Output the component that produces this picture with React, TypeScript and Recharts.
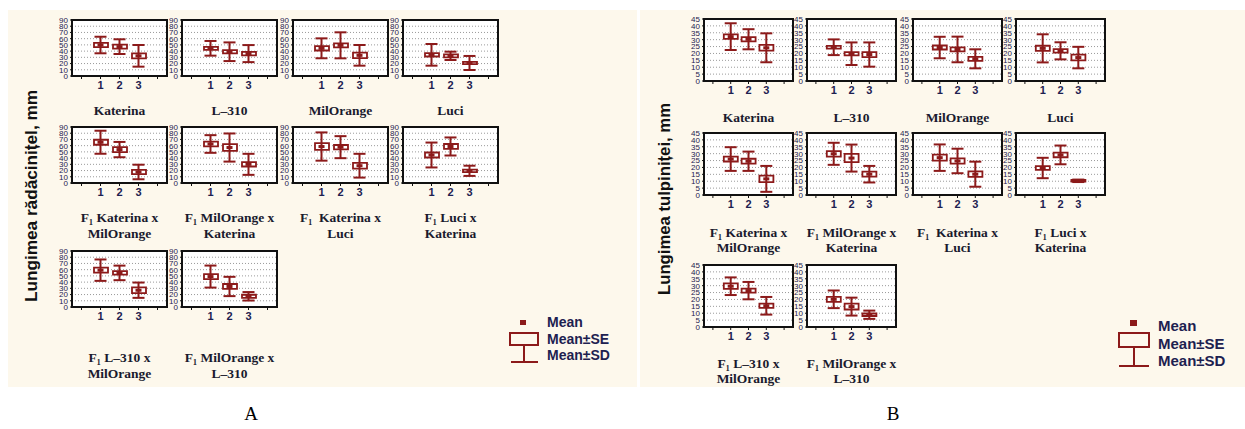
import React from 'react';
import { ComposedChart, Bar, Line, ErrorBar, XAxis, YAxis, CartesianGrid, ReferenceArea } from 'recharts';

// ---------- data ----------
const xPositions = [0, 1, 2, 3, 4];
const xTickText: Record<number, string> = { 0: '', 1: '1', 2: '2', 3: '3', 4: '' };

const crossNames: string[][] = [
  ['Katerina'], ['L–310'], ['MilOrange'], ['Luci'],
  ['F₁ Katerina x', 'MilOrange'], ['F₁ MilOrange x', 'Katerina'], ['F₁  Katerina x', 'Luci'], ['F₁ Luci x', 'Katerina'],
  ['F₁ L–310 x', 'MilOrange'], ['F₁ MilOrange x', 'L–310'],
];

const rootYTicks = [0, 10, 20, 30, 40, 50, 60, 70, 80, 90];
const rootMean = [
  [49.8, 47.2, 32.4], [44.5, 39.0, 36.0], [44.5, 49.3, 33.2], [34.0, 32.4, 20.9],
  [65.5, 53.7, 17.7], [62.7, 57.0, 30.0], [58.6, 57.6, 27.8], [45.0, 58.7, 19.6],
  [59.2, 54.8, 27.0], [48.9, 33.0, 17.2],
];
const rootSE = [
  [3.5, 3.2, 4.0], [2.4, 2.5, 2.7], [3.5, 3.2, 4.5], [2.7, 2.4, 1.9],
  [4.0, 4.0, 3.3], [3.8, 5.4, 3.5], [5.4, 3.5, 4.6], [4.0, 4.0, 2.0],
  [4.0, 2.7, 4.6], [4.0, 4.0, 2.5],
];
const rootSD = [
  [13.3, 11.8, 17.4], [11.8, 15.0, 13.7], [16.0, 20.9, 16.6], [17.4, 6.7, 11.3],
  [18.5, 12.3, 11.7], [14.2, 22.6, 16.9], [22.7, 17.7, 19.1], [20.0, 14.5, 8.2],
  [17.2, 11.7, 12.3], [17.7, 15.5, 6.8],
];

const stemYTicks = [0, 5, 10, 15, 20, 25, 30, 35, 40, 45];
const stemMean = [
  [32.2, 30.3, 24.1], [24.5, 19.8, 19.2], [24.3, 22.9, 16.1], [23.7, 21.9, 17.0],
  [26.1, 24.5, 11.7], [29.9, 26.8, 15.1], [27.1, 24.7, 15.1], [19.6, 29.1, 10.3],
  [29.6, 26.4, 15.4], [20.1, 14.8, 8.9],
];
const stemSE = [
  [1.6, 1.6, 2.1], [1.0, 1.2, 1.8], [1.45, 1.45, 1.45], [1.9, 1.3, 2.1],
  [1.8, 1.8, 2.4], [2.0, 3.0, 1.8], [2.2, 1.9, 2.0], [1.4, 1.7, 0.6],
  [2.0, 1.5, 1.5], [1.8, 2.1, 0.9],
];
const stemSD = [
  [9.7, 7.3, 10.5], [5.7, 8.2, 8.8], [7.8, 9.3, 6.9], [10.2, 6.2, 7.8],
  [8.6, 7.0, 9.4], [8.0, 9.8, 6.0], [9.6, 8.9, 9.1], [7.4, 6.8, 0.9],
  [6.4, 6.3, 6.4], [6.4, 6.5, 3.0],
];

const legendLabels = ['Mean', 'Mean±SE', 'Mean±SD'];
const yTitleA = 'Lungimea rădăcinițel, mm';
const yTitleB = 'Lungimea tulpiniței, mm';

// ---------- style / layout ----------
const RED = '#8c1a1a';
const NAVY = '#1d2150';
const CREAM = '#fdf8ec';
const YW = 20;
const MR = 6;
const MT = 4;
const XH = 16;

function buildRows(means: number[][], ses: number[][], sds: number[][], i: number) {
  return xPositions.map((c) => {
    if (c < 1 || c > 3) return { x: c };
    const m = means[i][c - 1];
    const s = ses[i][c - 1];
    return { x: c, mean: m, se: [m - s, m + s], sd: sds[i][c - 1] };
  });
}

const MeanDot = (props: any) => {
  const { cx, cy, index } = props;
  if (cx == null || cy == null || Number.isNaN(cy)) return <g key={`e${index}`} />;
  return <rect key={`m${index}`} x={cx - 3} y={cy - 1.5} width={6} height={3} fill={RED} />;
};

function SmallPlot({ left, top, pw, ph, data, yMax, yTicks }: any) {
  const W = pw + YW + MR;
  const H = ph + MT + XH;
  return (
    <div style={{ position: 'absolute', left: left - YW, top: top - MT }}>
      <ComposedChart width={W} height={H} data={data} margin={{ top: MT, right: MR, bottom: 0, left: 0 }}>
        <CartesianGrid vertical={false} stroke="#9a9a9a" strokeDasharray="1 2" fill="#ffffff" />
        <XAxis dataKey="x" type="number" domain={[-0.5, 4.5]} ticks={xPositions} interval={0} height={XH} tickSize={3}
          tickFormatter={(v: any) => xTickText[v] ?? ''}
          tick={{ fontSize: 11, fontWeight: 700, fill: NAVY, fontFamily: 'Liberation Sans, Arial, sans-serif' }}
          axisLine={false} tickLine={{ stroke: '#111' }} />
        <XAxis xAxisId="top" orientation="top" dataKey="x" type="number" domain={[-0.5, 4.5]} ticks={xPositions}
          interval={0} mirror tick={false} tickSize={3} axisLine={false} tickLine={{ stroke: '#111' }} />
        <YAxis type="number" domain={[0, yMax]} ticks={yTicks} interval={0} width={YW} tickSize={2}
          tick={{ fontSize: 8, fill: NAVY, fontFamily: 'Liberation Sans, Arial, sans-serif' }}
          axisLine={false} tickLine={{ stroke: '#111' }} allowDataOverflow />
        <YAxis yAxisId="right" orientation="right" type="number" domain={[0, yMax]} ticks={yTicks} interval={0}
          mirror tick={false} tickSize={3} width={0} axisLine={false} tickLine={{ stroke: '#111' }} />
        <Bar dataKey="se" barSize={14} fill="#ffffff" stroke={RED} strokeWidth={1.8} isAnimationActive={false} />
        <Line dataKey="mean" stroke="none" dot={MeanDot} activeDot={false} isAnimationActive={false} legendType="none">
          <ErrorBar dataKey="sd" width={6} stroke={RED} strokeWidth={2} direction="y" />
        </Line>
        <ReferenceArea x1={-0.5} x2={4.5} y1={0} y2={yMax} fill="none" fillOpacity={0} stroke="#111" strokeWidth={2}
          ifOverflow="visible" />
      </ComposedChart>
    </div>
  );
}

const panelA = { cols: [72, 182, 293, 403], rows: [20, 127, 251], pw: 95, ph: 56, labelY: [110, 217, 357], gap: 16 };
const panelB = { cols: [704, 807, 913, 1016], rows: [19, 133, 265], pw: 89, ph: 62, labelY: [117, 232, 363], gap: 15 };

function pos(i: number) {
  if (i < 4) return { r: 0, c: i };
  if (i < 8) return { r: 1, c: i - 4 };
  return { r: 2, c: i - 8 };
}

export default function App() {
  const serif = 'Liberation Serif, Times New Roman, serif';
  const sans = 'Liberation Sans, Arial, sans-serif';
  const labels: any[] = [];
  const plots: any[] = [];
  [
    { P: panelA, means: rootMean, ses: rootSE, sds: rootSD, yMax: 90, ticks: rootYTicks, key: 'A' },
    { P: panelB, means: stemMean, ses: stemSE, sds: stemSD, yMax: 45, ticks: stemYTicks, key: 'B' },
  ].forEach(({ P, means, ses, sds, yMax, ticks, key }) => {
    crossNames.forEach((name, i) => {
      const { r, c } = pos(i);
      plots.push(
        <SmallPlot key={`${key}${i}`} left={P.cols[c]} top={P.rows[r]} pw={P.pw} ph={P.ph}
          data={buildRows(means, ses, sds, i)} yMax={yMax} yTicks={ticks} />
      );
      name.forEach((line, j) => {
        labels.push(
          <text key={`${key}l${i}_${j}`} x={P.cols[c] + P.pw / 2} y={P.labelY[r] + j * P.gap}
            textAnchor="middle" dominantBaseline="central" fontFamily={serif} fontWeight={700}
            fontSize={13.5} fill="#1a1a2e" style={{ whiteSpace: 'pre' }}>{line}</text>
        );
      });
    });
  });

  return (
    <div style={{ position: 'absolute', left: 0, top: 0, width: 1245, height: 429, background: '#fff', overflow: 'hidden' }}>
      <div style={{ position: 'absolute', left: 8, top: 10, width: 629, height: 377, background: CREAM }} />
      <div style={{ position: 'absolute', left: 640, top: 10, width: 605, height: 377, background: CREAM }} />
      {plots}
      <svg width={1245} height={429} style={{ position: 'absolute', left: 0, top: 0, pointerEvents: 'none' }}>
        {labels}
        <text x={31} y={196} transform="rotate(-90 31 196)" textAnchor="middle" dominantBaseline="central"
          fontFamily={sans} fontWeight={700} fontSize={16} fill="#111" textLength={212} lengthAdjust="spacingAndGlyphs">{yTitleA}</text>
        <text x={664} y={199} transform="rotate(-90 664 199)" textAnchor="middle" dominantBaseline="central"
          fontFamily={sans} fontWeight={700} fontSize={16} fill="#111" textLength={192} lengthAdjust="spacingAndGlyphs">{yTitleB}</text>

        {/* legend A */}
        <rect x={520} y={320} width={6} height={5} fill={RED} />
        <rect x={510} y={333} width={28} height={12} fill="none" stroke={RED} strokeWidth={2} />
        <line x1={524} y1={345} x2={524} y2={362} stroke={RED} strokeWidth={2} />
        <line x1={511} y1={362} x2={538} y2={362} stroke={RED} strokeWidth={2} />
        {legendLabels.map((t, k) => (
          <text key={`la${k}`} x={547} y={[322, 339, 355][k]} dominantBaseline="central" fontFamily={sans}
            fontWeight={700} fontSize={14} fill={NAVY}>{t}</text>
        ))}

        {/* legend B */}
        <rect x={1130} y={320} width={7} height={6} fill={RED} />
        <rect x={1119} y={333} width={30} height={14} fill="none" stroke={RED} strokeWidth={2} />
        <line x1={1134} y1={347} x2={1134} y2={366} stroke={RED} strokeWidth={2} />
        <line x1={1119} y1={366} x2={1149} y2={366} stroke={RED} strokeWidth={2} />
        {legendLabels.map((t, k) => (
          <text key={`lb${k}`} x={1158} y={[325, 343, 360][k]} dominantBaseline="central" fontFamily={sans}
            fontWeight={700} fontSize={15} fill={NAVY}>{t}</text>
        ))}

        <text x={251} y={413} textAnchor="middle" dominantBaseline="central" fontFamily={serif} fontSize={19} fill="#000">A</text>
        <text x={893} y={413} textAnchor="middle" dominantBaseline="central" fontFamily={serif} fontSize={19} fill="#000">B</text>
      </svg>
    </div>
  );
}
